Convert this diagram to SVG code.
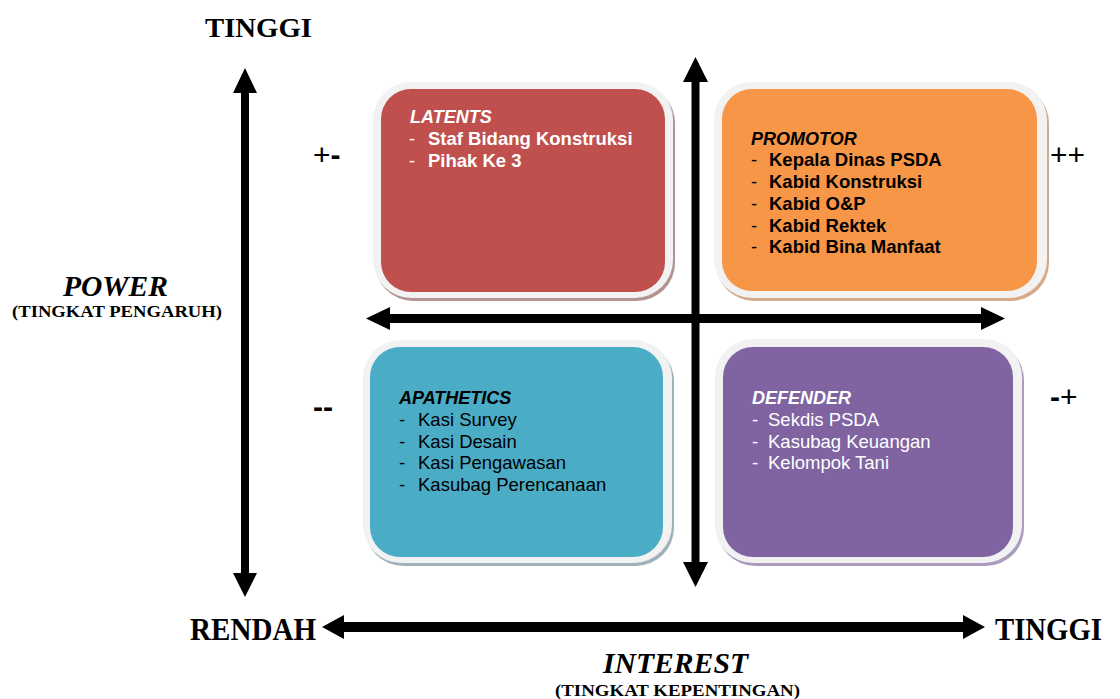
<svg xmlns="http://www.w3.org/2000/svg" width="1120" height="699" viewBox="0 0 1120 699">
<style>
.frame{fill:#f2f2f2}
.ttl{font-family:"Liberation Sans",Arial,sans-serif;font-size:18px;font-weight:bold;font-style:italic}
.itm{font-family:"Liberation Sans",Arial,sans-serif;font-size:18.5px}
.b{font-weight:bold}
.w{fill:#ffffff}
.k{fill:#000000}
.axis{font-family:"Liberation Serif","Times New Roman",serif;font-weight:bold;fill:#000}
.sign{font-family:"Liberation Sans",Arial,sans-serif;font-size:30px;fill:#000}
.arrow{fill:#000}
</style>
<rect width="1120" height="699" fill="#ffffff"/>

<g id="latents">
<rect x="375" y="85" width="300" height="216" rx="38" fill="#b39393"/>
<rect x="373" y="82" width="300" height="216" rx="38" class="frame"/>
<rect x="381" y="89" width="284" height="203" rx="30" fill="#C0504D"/>
<text x="410" y="123" class="ttl w">LATENTS</text>
<text class="itm w"><tspan x="409" y="145">-</tspan><tspan x="428" y="145" font-weight="bold">Staf Bidang Konstruksi</tspan><tspan x="409" y="167">-</tspan><tspan x="428" y="167" font-weight="bold">Pihak Ke 3</tspan></text>
</g>

<g id="promotor">
<rect x="716" y="85" width="333" height="216" rx="38" fill="#d6aa88"/>
<rect x="714" y="82" width="333" height="216" rx="38" class="frame"/>
<rect x="722" y="89" width="315" height="202" rx="30" fill="#F79646"/>
<text x="751" y="145" class="ttl k">PROMOTOR</text>
<text class="itm k"><tspan x="751" y="166">-</tspan><tspan x="769" y="166" font-weight="bold">Kepala Dinas PSDA</tspan><tspan x="751" y="188">-</tspan><tspan x="769" y="188" font-weight="bold">Kabid Konstruksi</tspan><tspan x="751" y="210">-</tspan><tspan x="769" y="210" font-weight="bold">Kabid O&amp;P</tspan><tspan x="751" y="232">-</tspan><tspan x="769" y="232" font-weight="bold">Kabid Rektek</tspan><tspan x="751" y="253">-</tspan><tspan x="769" y="253" font-weight="bold">Kabid Bina Manfaat</tspan></text>
</g>

<g id="apathetics">
<rect x="365" y="343" width="309" height="223" rx="38" fill="#9fb2bb"/>
<rect x="363" y="340" width="309" height="223" rx="38" class="frame"/>
<rect x="370" y="347" width="293" height="210" rx="30" fill="#4BACC6"/>
<text x="399" y="404" class="ttl k">APATHETICS</text>
<text class="itm k"><tspan x="399" y="426">-</tspan><tspan x="418" y="426">Kasi Survey</tspan><tspan x="399" y="448">-</tspan><tspan x="418" y="448">Kasi Desain</tspan><tspan x="399" y="469">-</tspan><tspan x="418" y="469">Kasi Pengawasan</tspan><tspan x="399" y="491">-</tspan><tspan x="418" y="491">Kasubag Perencanaan</tspan></text>
</g>

<g id="defender">
<rect x="717" y="342" width="307" height="224" rx="38" fill="#aa9cbc"/>
<rect x="715" y="339" width="307" height="224" rx="38" class="frame"/>
<rect x="723" y="347" width="290" height="210" rx="30" fill="#8064A2"/>
<text x="752" y="404" class="ttl w">DEFENDER</text>
<text class="itm w"><tspan x="752" y="426">-</tspan><tspan x="768" y="426">Sekdis PSDA</tspan><tspan x="752" y="448">-</tspan><tspan x="768" y="448">Kasubag Keuangan</tspan><tspan x="752" y="469">-</tspan><tspan x="768" y="469">Kelompok Tani</tspan></text>
</g>

<g id="connectors">
<path class="arrow" d="M245 68 L257 93 L249 93 L249 573 L257 573 L245 597 L233 573 L241 573 L241 93 L233 93 Z"/>
<path class="arrow" d="M695.5 57 L708 82 L699.5 82 L699.5 562 L708 562 L695.5 587 L683 562 L691.5 562 L691.5 82 L683 82 Z"/>
<path class="arrow" d="M366 318.5 L390 307 L390 314 L981 314 L981 307 L1005 318.5 L981 330 L981 323 L390 323 L390 330 Z"/>
<path class="arrow" d="M322 627 L344 615 L344 622 L963 622 L963 615 L985 627 L963 639 L963 632 L344 632 L344 639 Z"/>
</g>

<g id="labels">
<text x="205" y="37" class="axis" font-size="28" textLength="107" lengthAdjust="spacingAndGlyphs">TINGGI</text>
<text x="63" y="296" class="axis" font-size="29" font-style="italic" textLength="105" lengthAdjust="spacingAndGlyphs">POWER</text>
<text x="12" y="317" class="axis" font-size="16" textLength="210" lengthAdjust="spacingAndGlyphs">(TINGKAT PENGARUH)</text>
<text x="190" y="640" class="axis" font-size="31" textLength="126" lengthAdjust="spacingAndGlyphs">RENDAH</text>
<text x="995" y="640" class="axis" font-size="31" textLength="107" lengthAdjust="spacingAndGlyphs">TINGGI</text>
<text x="603" y="673" class="axis" font-size="30" font-style="italic" textLength="145" lengthAdjust="spacingAndGlyphs">INTEREST</text>
<text x="555" y="696" class="axis" font-size="17" textLength="245" lengthAdjust="spacingAndGlyphs">(TINGKAT KEPENTINGAN)</text>
<text x="313" y="165" class="sign">+<tspan font-weight="bold">-</tspan></text>
<text x="313" y="417" class="sign" font-weight="bold">--</text>
<text x="1050" y="165" class="sign">++</text>
<text x="1050" y="407" class="sign"><tspan font-weight="bold">-</tspan>+</text>
</g>
</svg>
